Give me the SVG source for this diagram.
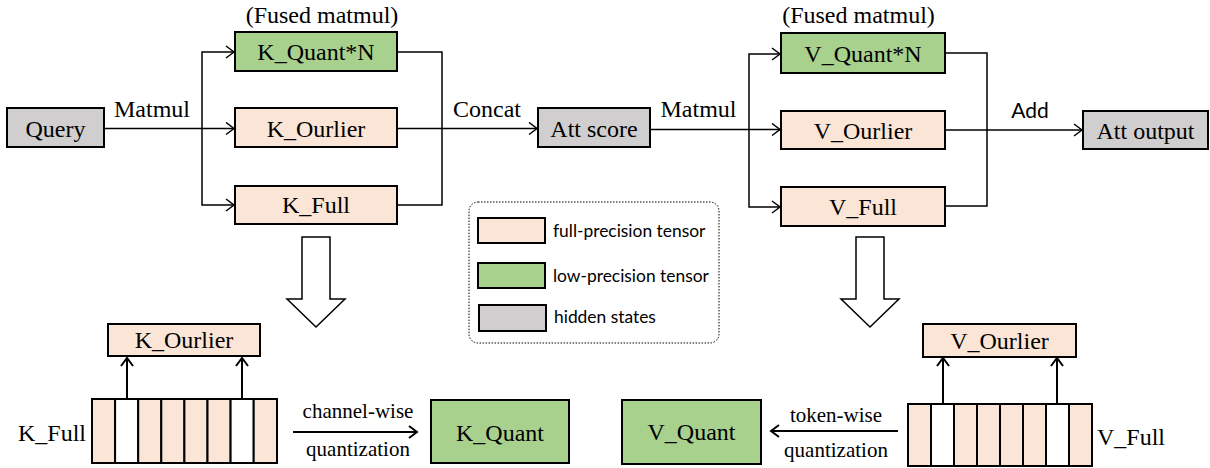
<svg xmlns="http://www.w3.org/2000/svg" width="1210" height="468" viewBox="0 0 1210 468">
<defs>
<style>
.box{stroke:#000;stroke-width:2}
.full{fill:#fbe5d6}
.low{fill:#a9d18e}
.hid{fill:#d0cece}
.wht{fill:#fff}
.t{font-family:"Liberation Serif","Times New Roman",serif;font-size:24px;fill:#000;text-anchor:middle}
.s{font-family:"Liberation Serif","Times New Roman",serif;font-size:21px;fill:#000;text-anchor:middle}
.sans{font-family:Lato,"Liberation Sans",sans-serif;fill:#000}
.ln{fill:none;stroke:#000;stroke-width:1.5}
.ln2{fill:none;stroke:#000;stroke-width:2}
</style>
<marker id="ah" markerUnits="userSpaceOnUse" markerWidth="12" markerHeight="14" refX="9" refY="7" orient="auto">
<path d="M1,1 L9,7 L1,13" fill="none" stroke="#000" stroke-width="1.5"/>
</marker>
<marker id="ah2" markerUnits="userSpaceOnUse" markerWidth="12" markerHeight="14" refX="9" refY="7" orient="auto">
<path d="M1,1 L9,7 L1,13" fill="none" stroke="#000" stroke-width="2"/>
</marker>
</defs>
<rect width="1210" height="468" fill="#fff"/>

<g id="connectors">
<path class="ln" d="M104,128.5 H234" marker-end="url(#ah)"/>
<path class="ln" d="M202,128.5 V52 H234" marker-end="url(#ah)"/>
<path class="ln" d="M202,128.5 V205 H234" marker-end="url(#ah)"/>
<path class="ln" d="M397,52 H442 V205 H397"/>
<path class="ln" d="M397,128.5 H537" marker-end="url(#ah)"/>
<path class="ln" d="M650,129.5 H780" marker-end="url(#ah)"/>
<path class="ln" d="M749,129.5 V54 H780" marker-end="url(#ah)"/>
<path class="ln" d="M749,129.5 V207 H780" marker-end="url(#ah)"/>
<path class="ln" d="M945,53 H987 V206 H945"/>
<path class="ln" d="M945,130 H1082" marker-end="url(#ah)"/>
<path class="ln2" d="M127,399 V358" marker-end="url(#ah2)"/>
<path class="ln2" d="M242,399 V358" marker-end="url(#ah2)"/>
<path class="ln2" d="M943,404 V358" marker-end="url(#ah2)"/>
<path class="ln2" d="M1057,404 V358" marker-end="url(#ah2)"/>
<path class="ln2" d="M293,432 H417" marker-end="url(#ah2)"/>
<path class="ln2" d="M898,431 H771" marker-end="url(#ah2)"/>
<path d="M302,237 H330 V299 H345 L316,327 L287,299 H302 Z" fill="#fff" stroke="#000" stroke-width="1.5"/>
<path d="M856,237 H884 V299 H899 L870,327 L841,299 H856 Z" fill="#fff" stroke="#000" stroke-width="1.5"/>
</g>

<g id="labels">
<text class="t" x="152" y="117">Matmul</text>
<text class="t" x="487" y="117">Concat</text>
<text class="t" x="698.5" y="117">Matmul</text>
<text class="sans" x="1030" y="118" style="font-size:21px;text-anchor:middle">Add</text>
<text class="t" x="322" y="23">(Fused matmul)</text>
<text class="t" x="858.5" y="23">(Fused matmul)</text>
<text class="s" x="358" y="418">channel-wise</text>
<text class="s" x="358" y="456">quantization</text>
<text class="s" x="836" y="422">token-wise</text>
<text class="s" x="836" y="457">quantization</text>
</g>

<g id="query"><rect class="box hid" x="7" y="108" width="97" height="39"/><text class="t" x="55.5" y="137">Query</text></g>
<g id="k_quant_n"><rect class="box low" x="235" y="32" width="162" height="39"/><text class="t" x="316" y="60">K_Quant*N</text></g>
<g id="k_ourlier"><rect class="box full" x="235" y="108" width="162" height="39"/><text class="t" x="316" y="137">K_Ourlier</text></g>
<g id="k_full"><rect class="box full" x="235" y="186" width="162" height="38"/><text class="t" x="316" y="213">K_Full</text></g>
<g id="att_score"><rect class="box hid" x="538" y="108" width="112" height="39"/><text class="t" x="594" y="137">Att score</text></g>
<g id="v_quant_n"><rect class="box low" x="781" y="33" width="164" height="40"/><text class="t" x="863" y="62">V_Quant*N</text></g>
<g id="v_ourlier"><rect class="box full" x="781" y="111" width="164" height="38"/><text class="t" x="863" y="139">V_Ourlier</text></g>
<g id="v_full"><rect class="box full" x="781" y="187" width="164" height="39"/><text class="t" x="863" y="215">V_Full</text></g>
<g id="att_output"><rect class="box hid" x="1083" y="111" width="125" height="38"/><text class="t" x="1145.5" y="139">Att output</text></g>

<g id="legend">
<rect x="469" y="202" width="250" height="141" rx="9" fill="none" stroke="#000" stroke-width="1" stroke-dasharray="1.5,1.5"/>
<rect class="box full" x="478" y="218" width="67" height="25"/>
<rect class="box low" x="478" y="263" width="67" height="25"/>
<rect class="box hid" x="479" y="305" width="67" height="26"/>
<text class="sans" x="553" y="237" style="font-size:17.4px">full-precision tensor</text>
<text class="sans" x="553" y="282" style="font-size:17.4px">low-precision tensor</text>
<text class="sans" x="554" y="323" style="font-size:17.4px">hidden states</text>
</g>

<g id="k_ourlier_small"><rect class="box full" x="108" y="324" width="152" height="32"/><text class="t" x="184" y="348">K_Ourlier</text></g>
<g id="k_full_strips">
<rect class="box full" x="92" y="399" width="23.1" height="64"/>
<rect class="box wht" x="115.1" y="399" width="23.1" height="64"/>
<rect class="box full" x="138.2" y="399" width="23.1" height="64"/>
<rect class="box full" x="161.3" y="399" width="23.1" height="64"/>
<rect class="box full" x="184.4" y="399" width="23.1" height="64"/>
<rect class="box full" x="207.5" y="399" width="23.1" height="64"/>
<rect class="box wht" x="230.6" y="399" width="23.1" height="64"/>
<rect class="box full" x="253.7" y="399" width="23.3" height="64"/>
<text class="t" x="86" y="441" style="text-anchor:end">K_Full</text>
</g>
<g id="k_quant"><rect class="box low" x="431" y="400" width="138" height="63"/><text class="t" x="500" y="441">K_Quant</text></g>

<g id="v_ourlier_small"><rect class="box full" x="923" y="324" width="153" height="33"/><text class="t" x="999.5" y="349">V_Ourlier</text></g>
<g id="v_full_strips">
<rect class="box full" x="908" y="404" width="23" height="62"/>
<rect class="box wht" x="931" y="404" width="23" height="62"/>
<rect class="box full" x="954" y="404" width="23" height="62"/>
<rect class="box full" x="977" y="404" width="23" height="62"/>
<rect class="box full" x="1000" y="404" width="23" height="62"/>
<rect class="box full" x="1023" y="404" width="23" height="62"/>
<rect class="box wht" x="1046" y="404" width="23" height="62"/>
<rect class="box full" x="1069" y="404" width="23" height="62"/>
<text class="t" x="1097" y="445" style="text-anchor:start">V_Full</text>
</g>
<g id="v_quant"><rect class="box low" x="622" y="400" width="139" height="64"/><text class="t" x="691.5" y="440">V_Quant</text></g>
</svg>
